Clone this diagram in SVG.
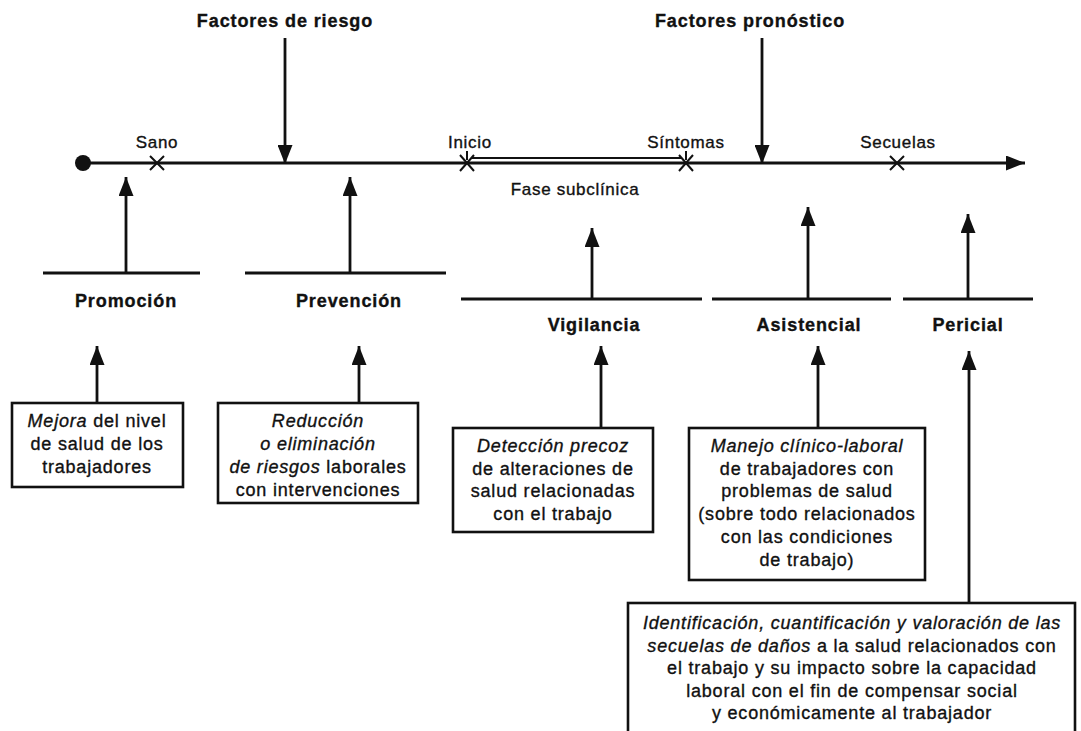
<svg xmlns="http://www.w3.org/2000/svg" width="1081" height="731" viewBox="0 0 1081 731">
<style>
  text { font-family: "Liberation Sans", Arial, sans-serif; fill: #111; stroke: #111; stroke-width: 0.35px; }
  .hdr { font-size: 18px; font-weight: bold; text-anchor: middle; letter-spacing: 0.9px; }
  .lab { font-size: 17px; text-anchor: middle; letter-spacing: 0.7px; }
  .box { fill: #fff; stroke: #111; stroke-width: 2.6; }
  .bt { font-size: 18px; text-anchor: middle; letter-spacing: 0.8px; }
  .it { font-style: italic; }
  .ln { stroke: #111; stroke-width: 2.8; fill: none; }
  .thin { stroke: #111; stroke-width: 2; fill: none; }
</style>
<defs>
  <marker id="ah" markerUnits="userSpaceOnUse" markerWidth="19" markerHeight="15" viewBox="0 0 19 15" refX="19" refY="7.5" orient="auto">
    <path d="M0,0 L19,7.5 L0,15 Z" fill="#111"/>
  </marker>
</defs>
<rect width="1081" height="731" fill="#fff"/>

<g id="connectors">
  <!-- main timeline -->
  <line class="ln" x1="83" y1="163" x2="1025" y2="163" marker-end="url(#ah)"/>
  <line class="thin" x1="472" y1="158" x2="682" y2="158"/>
  <!-- factors -->
  <line class="ln" x1="285" y1="38" x2="285" y2="164" marker-end="url(#ah)"/>
  <line class="ln" x1="762" y1="38" x2="762" y2="164" marker-end="url(#ah)"/>
  <!-- level lines and up arrows -->
  <line class="ln" x1="43" y1="273" x2="200" y2="273"/>
  <line class="ln" x1="126" y1="273" x2="126" y2="177" marker-end="url(#ah)"/>
  <line class="ln" x1="245" y1="273" x2="446" y2="273"/>
  <line class="ln" x1="350" y1="273" x2="350" y2="177" marker-end="url(#ah)"/>
  <line class="ln" x1="461" y1="299" x2="702" y2="299"/>
  <line class="ln" x1="592" y1="299" x2="592" y2="228" marker-end="url(#ah)"/>
  <line class="ln" x1="712" y1="299" x2="891" y2="299"/>
  <line class="ln" x1="808" y1="299" x2="808" y2="207" marker-end="url(#ah)"/>
  <line class="ln" x1="903" y1="299" x2="1033" y2="299"/>
  <line class="ln" x1="968" y1="299" x2="968" y2="214" marker-end="url(#ah)"/>
  <!-- box arrows -->
  <line class="ln" x1="97" y1="403" x2="97" y2="346" marker-end="url(#ah)"/>
  <line class="ln" x1="359" y1="403" x2="359" y2="346" marker-end="url(#ah)"/>
  <line class="ln" x1="601" y1="428" x2="601" y2="346" marker-end="url(#ah)"/>
  <line class="ln" x1="818" y1="428" x2="818" y2="346" marker-end="url(#ah)"/>
  <line class="ln" x1="969" y1="603" x2="969" y2="351" marker-end="url(#ah)"/>
</g>

<g id="timeline">
  <circle cx="83" cy="163" r="8" fill="#111"/>
  <path class="thin" d="M150,156 L164,170 M164,156 L150,170"/>
  <path class="thin" d="M460,155 L474,171 M474,155 L460,171 M467,151 L467,160"/>
  <path class="thin" d="M679,155 L693,171 M693,155 L679,171 M686,151 L686,160"/>
  <path class="thin" d="M890,156 L904,170 M904,156 L890,170"/>
  <text class="lab" x="157" y="148">Sano</text>
  <text class="lab" x="470" y="148">Inicio</text>
  <text class="lab" x="686" y="148">Síntomas</text>
  <text class="lab" x="898" y="148">Secuelas</text>
  <text class="lab" x="575" y="195">Fase subclínica</text>
</g>

<g id="factores-riesgo"><text class="hdr" x="285" y="27">Factores de riesgo</text></g>
<g id="factores-pronostico"><text class="hdr" x="750" y="27">Factores pronóstico</text></g>

<g id="promocion"><text class="hdr" x="126" y="307">Promoción</text></g>
<g id="prevencion"><text class="hdr" x="349" y="307">Prevención</text></g>
<g id="vigilancia"><text class="hdr" x="594" y="331">Vigilancia</text></g>
<g id="asistencial"><text class="hdr" x="809" y="331">Asistencial</text></g>
<g id="pericial"><text class="hdr" x="968" y="331">Pericial</text></g>

<g id="box-mejora">
  <rect class="box" x="12" y="403" width="171" height="84"/>
  <text class="bt" x="97" y="427"><tspan class="it">Mejora</tspan> del nivel</text>
  <text class="bt" x="97" y="450">de salud de los</text>
  <text class="bt" x="97" y="473">trabajadores</text>
</g>

<g id="box-reduccion">
  <rect class="box" x="218" y="403" width="200" height="100"/>
  <text class="bt it" x="318" y="427">Reducción</text>
  <text class="bt it" x="318" y="450">o eliminación</text>
  <text class="bt" x="318" y="473"><tspan class="it">de riesgos</tspan> laborales</text>
  <text class="bt" x="318" y="496">con intervenciones</text>
</g>

<g id="box-deteccion">
  <rect class="box" x="453" y="428" width="200" height="104"/>
  <text class="bt it" x="553" y="452">Detección precoz</text>
  <text class="bt" x="553" y="475">de alteraciones de</text>
  <text class="bt" x="553" y="497">salud relacionadas</text>
  <text class="bt" x="553" y="520">con el trabajo</text>
</g>

<g id="box-manejo">
  <rect class="box" x="689" y="428" width="236" height="152"/>
  <text class="bt it" x="807" y="452">Manejo clínico-laboral</text>
  <text class="bt" x="807" y="475">de trabajadores con</text>
  <text class="bt" x="807" y="497">problemas de salud</text>
  <text class="bt" x="807" y="520">(sobre todo relacionados</text>
  <text class="bt" x="807" y="543">con las condiciones</text>
  <text class="bt" x="807" y="566">de trabajo)</text>
</g>

<g id="box-identificacion">
  <rect class="box" x="628" y="603" width="447" height="140"/>
  <text class="bt it" x="852" y="629">Identificación, cuantificación y valoración de las</text>
  <text class="bt" x="852" y="652"><tspan class="it">secuelas de daños</tspan> a la salud relacionados con</text>
  <text class="bt" x="852" y="674">el trabajo y su impacto sobre la capacidad</text>
  <text class="bt" x="852" y="697">laboral con el fin de compensar social</text>
  <text class="bt" x="852" y="719">y económicamente al trabajador</text>
</g>
</svg>
